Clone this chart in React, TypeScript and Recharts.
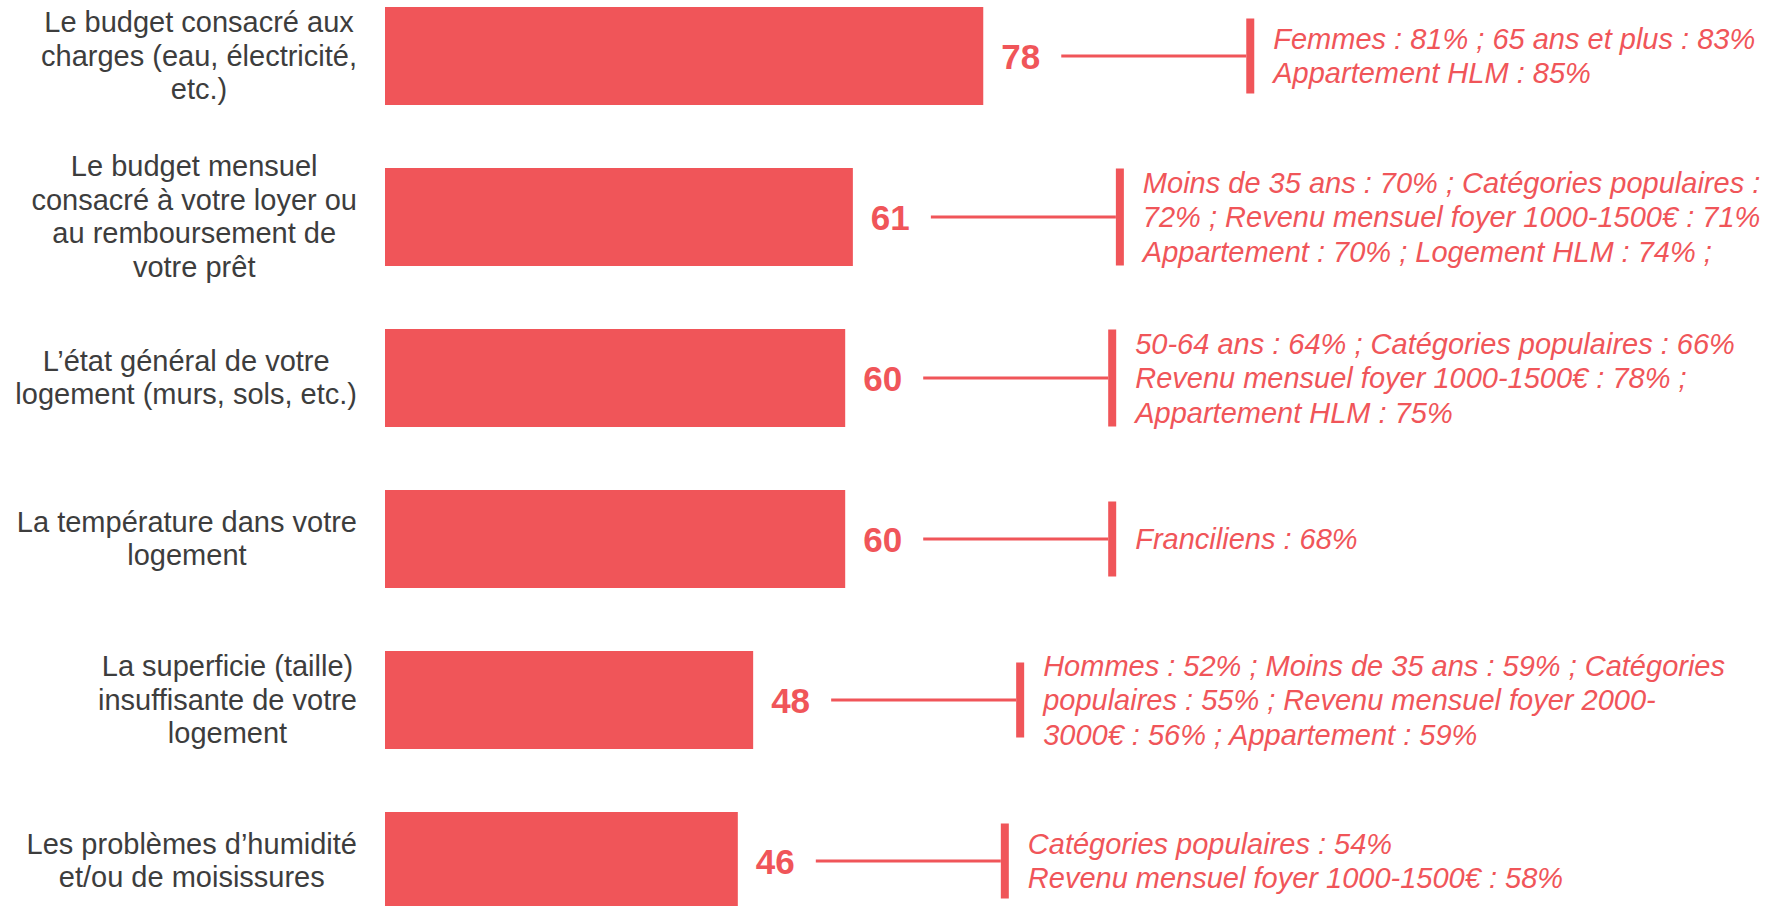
import { BarChart, Bar, XAxis, YAxis, LabelList } from "recharts";

const categories = [
  "Le budget consacré aux\ncharges (eau, électricité,\netc.)",
  "Le budget mensuel\nconsacré à votre loyer ou\nau remboursement de\nvotre prêt",
  "L’état général de votre\nlogement (murs, sols, etc.)",
  "La température dans votre\nlogement",
  "La superficie (taille)\ninsuffisante de votre\nlogement",
  "Les problèmes d’humidité\net/ou de moisissures",
];

const values = [78, 61, 60, 60, 48, 46];

const details = [
  ["Femmes : 81% ; 65 ans et plus : 83%", "Appartement HLM : 85%"],
  [
    "Moins de 35 ans : 70% ; Catégories populaires :",
    "72% ; Revenu mensuel foyer 1000-1500€ : 71%",
    "Appartement : 70% ; Logement HLM : 74% ;",
  ],
  [
    "50-64 ans : 64% ; Catégories populaires : 66%",
    "Revenu mensuel foyer 1000-1500€ : 78% ;",
    "Appartement HLM : 75%",
  ],
  ["Franciliens : 68%"],
  [
    "Hommes : 52% ; Moins de 35 ans : 59% ; Catégories",
    "populaires : 55% ; Revenu mensuel foyer 2000-",
    "3000€ : 56% ; Appartement : 59%",
  ],
  ["Catégories populaires : 54%", "Revenu mensuel foyer 1000-1500€ : 58%"],
];

const data = categories.map((name, i) => ({ name, value: values[i] }));

const RED = "#f05559";
const GREY = "#3d3d3d";
const FONT = "'Liberation Sans', Arial, sans-serif";
const LABEL_RIGHT = 357;
const tallBrackets = [1, 2];

let ctx: CanvasRenderingContext2D | null = null;
function measure(text: string) {
  if (!ctx) {
    ctx = document.createElement("canvas").getContext("2d");
    if (ctx) ctx.font = `29px ${FONT}`;
  }
  return ctx ? ctx.measureText(text).width : text.length * 14;
}

function CategoryTick(props: any) {
  const { y, payload } = props;
  const lines: string[] = String(payload.value).split("\n");
  const maxW = Math.max(...lines.map(measure));
  const cx = LABEL_RIGHT - maxW / 2;
  const lh = 33.4;
  return (
    <text fill={GREY} fontFamily={FONT} fontSize={29} textAnchor="middle">
      {lines.map((l, i) => (
        <tspan key={i} x={cx} y={y + (i - (lines.length - 1) / 2) * lh} dominantBaseline="central">
          {l}
        </tspan>
      ))}
    </text>
  );
}

function Annotation(props: any) {
  const { x, y, width, height, index, value } = props;
  const end = Number(x) + Number(width);
  const cy = Number(y) + Number(height) / 2;
  const lineStart = end + 78;
  const lineEnd = lineStart + 185;
  const bh = tallBrackets.includes(index) ? 97 : 75;
  const lines = details[index] || [];
  const lh = 34.5;
  return (
    <g>
      <text
        x={end + 18}
        y={cy}
        dominantBaseline="central"
        fill={RED}
        fontFamily={FONT}
        fontSize={35}
        fontWeight="bold"
      >
        {value}
      </text>
      <line x1={lineStart} x2={lineEnd} y1={cy} y2={cy} stroke={RED} strokeWidth={3} />
      <rect x={lineEnd} y={cy - bh / 2} width={8} height={bh} fill={RED} />
      <text fill={RED} fontFamily={FONT} fontSize={29} fontStyle="italic">
        {lines.map((l, i) => (
          <tspan
            key={i}
            x={lineEnd + 27}
            y={cy + (i - (lines.length - 1) / 2) * lh}
            dominantBaseline="central"
          >
            {l}
          </tspan>
        ))}
      </text>
    </g>
  );
}

export default function App() {
  return (
    <div
      style={{
        position: "fixed",
        left: 0,
        top: 0,
        width: 1771,
        height: 906,
        overflow: "hidden",
        background: "#ffffff",
      }}
    >
      <div style={{ position: "absolute", left: 0, top: -25.5 }}>
        <BarChart
          layout="vertical"
          width={1771}
          height={966}
          data={data}
          margin={{ top: 0, right: 619, bottom: 0, left: 0 }}
        >
          <XAxis type="number" domain={[0, 100]} hide />
          <YAxis
            type="category"
            dataKey="name"
            width={385}
            axisLine={false}
            tickLine={false}
            tick={<CategoryTick />}
            interval={0}
          />
          <Bar dataKey="value" fill={RED} barSize={98} isAnimationActive={false}>
            <LabelList dataKey="value" content={<Annotation />} />
          </Bar>
        </BarChart>
      </div>
    </div>
  );
}
